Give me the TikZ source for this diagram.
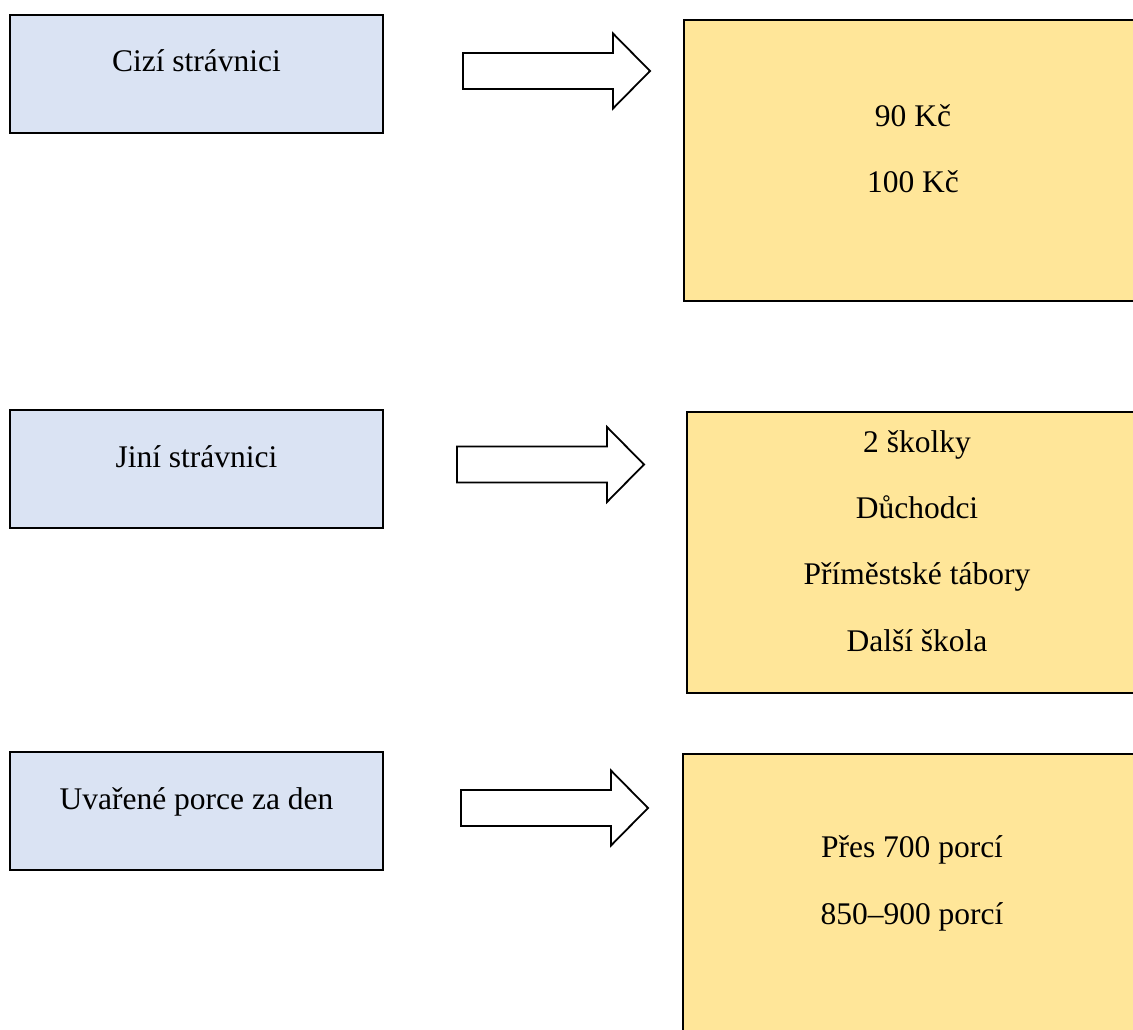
\documentclass[tikz,border=0pt]{standalone}
\usepackage{fontspec}
\setmainfont{Liberation Serif}
\definecolor{boxblue}{HTML}{DAE3F3}
\definecolor{boxyellow}{HTML}{FFE699}
\tikzset{
    leftbox/.style = {draw, line width=1.8pt, fill=boxblue, minimum width=373pt, minimum height=118pt, inner sep=0pt},
    rightbox/.style = {draw, line width=1.8pt, fill=boxyellow, minimum width=460pt, minimum height=281pt, inner sep=0pt},
    txt/.style = {anchor=base, inner sep=0pt, font=\fontsize{31.5}{38}\selectfont}
}

\begin{document}
\begin{tikzpicture}[x=1pt, y=-1pt]
    \useasboundingbox (0,0) rectangle (1133,1030);
    \begin{scope}
    \clip (0,0) rectangle (1133,1030);
    % left column
    \node [leftbox] (cizi) at (196.5,74) {};
    \node [leftbox] (jini) at (196.5,469) {};
    \node [leftbox] (porce) at (196.5,811) {};
    \node [txt] (cizi-t) at (196.5,72) {Cizí strávnici};
    \node [txt] (jini-t) at (196.5,467) {Jiní strávnici};
    \node [txt] (porce-t) at (196.5,809) {Uvařené porce za den};
    % right column
    \node [rightbox] (cena) at (914,160.5) {};
    \node [rightbox] (kdo) at (917,552.5) {};
    \node [rightbox] (pocet) at (913,894.5) {};
    \node [txt] (cena-a) at (913,127) {90 Kč};
    \node [txt] (cena-b) at (913,193) {100 Kč};
    \node [txt] (kdo-a) at (917,452) {2 školky};
    \node [txt] (kdo-b) at (917,518) {Důchodci};
    \node [txt] (kdo-c) at (917,584) {Příměstské tábory};
    \node [txt] (kdo-d) at (917,651) {Další škola};
    \node [txt] (pocet-a) at (912,857) {Přes 700 porcí};
    \node [txt] (pocet-b) at (912,924) {850–900 porcí};
    \end{scope}
    % block arrows
    \foreach \ax/\ay in {463/71, 457/464.5, 461/808}
        \draw [line width=1.8pt, fill=white, line join=miter]
        (\ax,\ay-18) -- ++(150,0) -- ++(0,-19.5) -- ++(37,37.5) -- ++(-37,37.5)
        -- ++(0,-19.5) -- ++(-150,0) -- cycle;
\end{tikzpicture}
\end{document}
